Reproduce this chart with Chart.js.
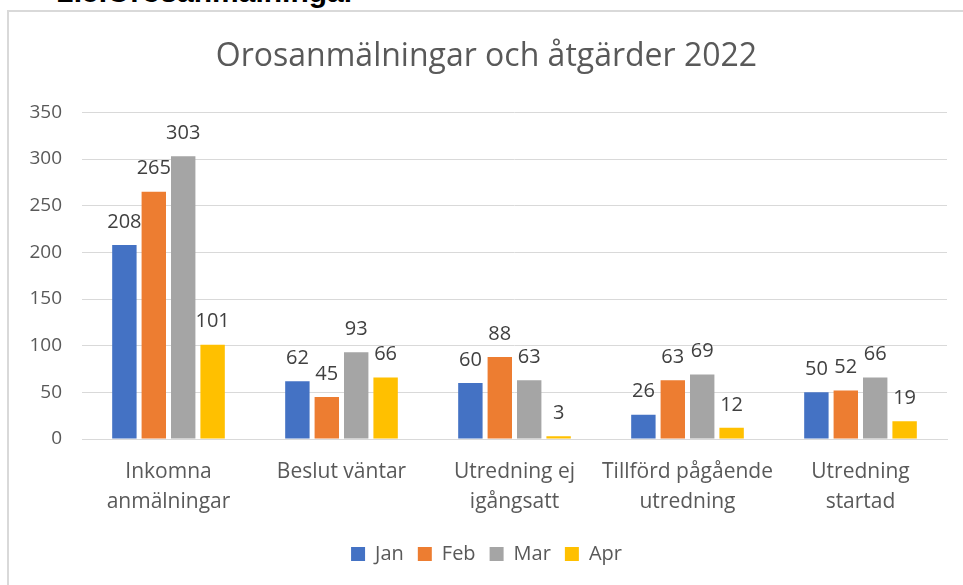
<!DOCTYPE html>
<html>
<head>
<meta charset="utf-8">
<script src="https://cdn.jsdelivr.net/npm/chart.js@4/dist/chart.umd.min.js"></script>
<style>
  html, body { margin: 0; padding: 0; background: #fff; overflow: hidden; }
  body { width: 963px; height: 585px; position: relative; }
  #heading { position: absolute; left: 57px; top: -25px; font: bold 30px "Liberation Sans", Arial, sans-serif; color: #000; white-space: nowrap; }
  #frame { position: absolute; left: 7px; top: 10px; width: 1000px; height: 600px; border: 2px solid #d9d9d9; box-sizing: border-box; background: #fff; }
  #wrap { position: absolute; left: 0; top: 0; width: 963px; height: 585px; }
</style>
</head>
<body>
<div id="heading">2.5.Orosanmälningar</div>
<div id="frame"></div>
<div id="wrap"><canvas id="barChart"></canvas></div>
<script>
const categories = [
  ["Inkomna", "anmälningar"],
  ["Beslut väntar"],
  ["Utredning ej", "igångsatt"],
  ["Tillförd pågående", "utredning"],
  ["Utredning", "startad"]
];
const janValues = [208, 62, 60, 26, 50];
const febValues = [265, 45, 88, 63, 52];
const marValues = [303, 93, 63, 69, 66];
const aprValues = [101, 66, 3, 12, 19];
const yTicks = [0, 50, 100, 150, 200, 250, 300, 350];

const fontFamily = '"Open Sans", "Noto Sans", sans-serif';

// draw the value above each bar
const valueLabels = {
  id: 'valueLabels',
  afterDatasetsDraw(chart) {
    const ctx = chart.ctx;
    ctx.save();
    ctx.font = '20px ' + fontFamily;
    ctx.fillStyle = '#404040';
    ctx.textAlign = 'center';
    ctx.textBaseline = 'bottom';
    chart.data.datasets.forEach((ds, i) => {
      chart.getDatasetMeta(i).data.forEach((bar, j) => {
        ctx.fillText(ds.data[j], bar.x, bar.y - 13);
      });
    });
    ctx.restore();
  }
};

const ctx = document.getElementById('barChart').getContext('2d');
const barChart = new Chart(ctx, {
  type: 'bar',
  data: {
    labels: categories,
    datasets: [
      { label: 'Jan', data: janValues, backgroundColor: '#4472C4' },
      { label: 'Feb', data: febValues, backgroundColor: '#ED7D31' },
      { label: 'Mar', data: marValues, backgroundColor: '#A5A5A5' },
      { label: 'Apr', data: aprValues, backgroundColor: '#FFC000' }
    ]
  },
  options: {
    responsive: true,
    maintainAspectRatio: false,
    animation: false,
    layout: { padding: { left: 26, right: 16, top: 2, bottom: 11 } },
    datasets: { bar: { categoryPercentage: 0.68, barPercentage: 0.83 } },
    plugins: {
      title: {
        display: true,
        text: 'Orosanmälningar och åtgärder 2022',
        color: '#595959',
        font: { family: fontFamily, size: 32, weight: 'normal' },
        padding: { top: 36, bottom: 36 }
      },
      legend: {
        position: 'bottom',
        labels: {
          color: '#595959',
          font: { family: fontFamily, size: 20 },
          boxWidth: 14,
          boxHeight: 14,
          padding: 14
        }
      },
      tooltip: { enabled: false }
    },
    scales: {
      x: {
        grid: { display: false },
        border: { color: '#d9d9d9' },
        ticks: {
          color: '#595959',
          font: { family: fontFamily, size: 21, lineHeight: 1.43 },
          padding: 10,
          maxRotation: 0,
          autoSkip: false
        },
        afterFit(scale) { scale.height = 91; }
      },
      y: {
        min: 0,
        max: 350,
        afterBuildTicks(scale) { scale.ticks = yTicks.map(v => ({ value: v })); },
        grid: { color: '#d9d9d9', drawTicks: false },
        border: { display: false },
        ticks: {
          color: '#595959',
          font: { family: fontFamily, size: 19 },
          padding: 20
        },
        afterFit(scale) { scale.width = 56; }
      }
    }
  },
  plugins: [valueLabels]
});
</script>
</body>
</html>
